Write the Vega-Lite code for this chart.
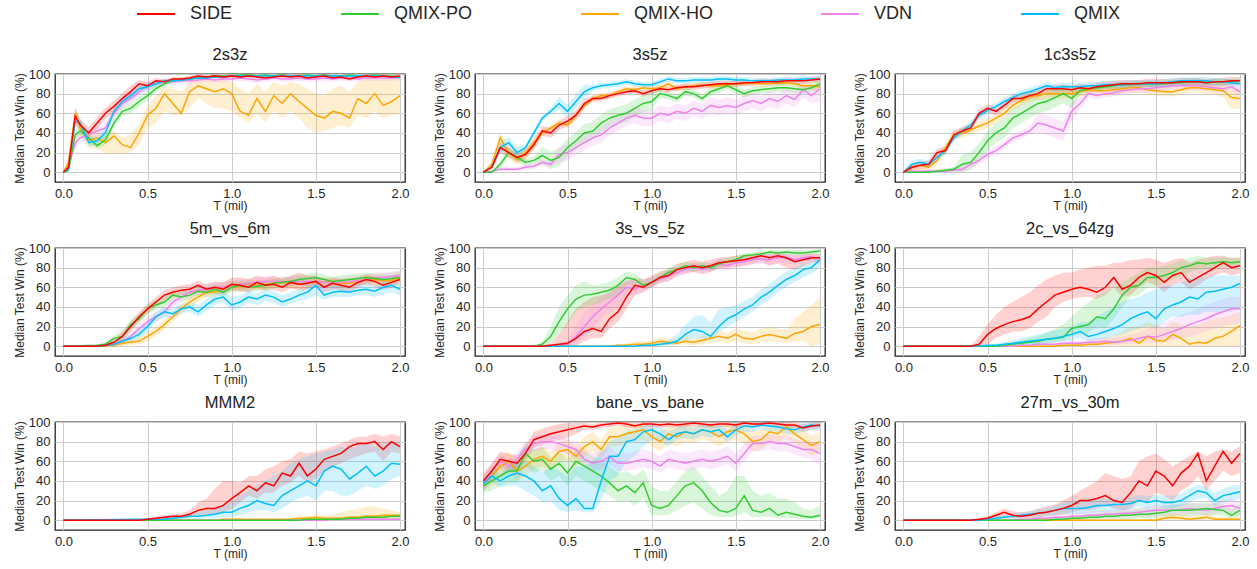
{
"$schema":"https://vega.github.io/schema/vega-lite/v6.json",
"padding":{"left":12,"top":-6,"right":5,"bottom":5},
"background":"white",
"data":{"values":[
{"m":"2s3z","t":0,"S":0,"Sl":0,"Sh":0,"P":0,"Pl":0,"Ph":0,"H":0,"Hl":0,"Hh":0,"V":0,"Vl":0,"Vh":0,"Q":0,"Ql":0,"Qh":0},
{"m":"2s3z","t":0.03,"S":5,"Sl":3,"Sh":8,"P":2,"Pl":0,"Ph":4,"H":10,"Hl":5,"Hh":15,"V":5,"Vl":2,"Vh":8,"Q":3,"Ql":1,"Qh":5},
{"m":"2s3z","t":0.07,"S":57,"Sl":50,"Sh":66,"P":38,"Pl":33,"Ph":43,"H":60,"Hl":50,"Hh":66,"V":30,"Vl":25,"Vh":36,"Q":52,"Ql":47,"Qh":57},
{"m":"2s3z","t":0.1,"S":48,"Sl":42,"Sh":54,"P":42,"Pl":37,"Ph":47,"H":45,"Hl":37,"Hh":53,"V":35,"Vl":30,"Vh":40,"Q":50,"Ql":45,"Qh":55},
{"m":"2s3z","t":0.15,"S":40,"Sl":35,"Sh":46,"P":35,"Pl":30,"Ph":40,"H":32,"Hl":24,"Hh":40,"V":38,"Vl":33,"Vh":43,"Q":30,"Ql":26,"Qh":35},
{"m":"2s3z","t":0.2,"S":50,"Sl":44,"Sh":56,"P":27,"Pl":23,"Ph":32,"H":35,"Hl":25,"Hh":42,"V":42,"Vl":37,"Vh":47,"Q":32,"Ql":28,"Qh":37},
{"m":"2s3z","t":0.25,"S":60,"Sl":54,"Sh":66,"P":33,"Pl":28,"Ph":38,"H":30,"Hl":18,"Hh":38,"V":45,"Vl":40,"Vh":50,"Q":40,"Ql":35,"Qh":45},
{"m":"2s3z","t":0.3,"S":67,"Sl":61,"Sh":73,"P":50,"Pl":45,"Ph":55,"H":37,"Hl":20,"Hh":42,"V":60,"Vl":55,"Vh":65,"Q":62,"Ql":57,"Qh":67},
{"m":"2s3z","t":0.35,"S":75,"Sl":69,"Sh":81,"P":62,"Pl":57,"Ph":67,"H":28,"Hl":18,"Hh":35,"V":70,"Vl":65,"Vh":75,"Q":72,"Ql":67,"Qh":77},
{"m":"2s3z","t":0.4,"S":82,"Sl":76,"Sh":88,"P":65,"Pl":60,"Ph":70,"H":25,"Hl":20,"Hh":38,"V":75,"Vl":70,"Vh":80,"Q":78,"Ql":73,"Qh":83},
{"m":"2s3z","t":0.45,"S":90,"Sl":85,"Sh":94,"P":72,"Pl":67,"Ph":77,"H":40,"Hl":28,"Hh":50,"V":82,"Vl":77,"Vh":87,"Q":85,"Ql":80,"Qh":89},
{"m":"2s3z","t":0.5,"S":88,"Sl":84,"Sh":92,"P":78,"Pl":73,"Ph":83,"H":58,"Hl":45,"Hh":68,"V":88,"Vl":84,"Vh":92,"Q":87,"Ql":83,"Qh":91},
{"m":"2s3z","t":0.55,"S":93,"Sl":90,"Sh":96,"P":85,"Pl":81,"Ph":89,"H":65,"Hl":50,"Hh":78,"V":90,"Vl":86,"Vh":93,"Q":90,"Ql":87,"Qh":93},
{"m":"2s3z","t":0.6,"S":92,"Sl":89,"Sh":95,"P":90,"Pl":87,"Ph":93,"H":80,"Hl":62,"Hh":88,"V":92,"Vl":89,"Vh":95,"Q":93,"Ql":91,"Qh":95},
{"m":"2s3z","t":0.65,"S":95,"Sl":93,"Sh":97,"P":93,"Pl":91,"Ph":95,"H":70,"Hl":58,"Hh":85,"V":92,"Vl":89,"Vh":95,"Q":93,"Ql":91,"Qh":95},
{"m":"2s3z","t":0.7,"S":95,"Sl":93,"Sh":97,"P":94,"Pl":92,"Ph":96,"H":60,"Hl":58,"Hh":82,"V":93,"Vl":90,"Vh":96,"Q":94,"Ql":92,"Qh":96},
{"m":"2s3z","t":0.75,"S":96,"Sl":94,"Sh":98,"P":95,"Pl":94,"Ph":97,"H":82,"Hl":65,"Hh":92,"V":93,"Vl":90,"Vh":96,"Q":95,"Ql":94,"Qh":97},
{"m":"2s3z","t":0.8,"S":98,"Sl":96,"Sh":100,"P":96,"Pl":95,"Ph":98,"H":88,"Hl":75,"Hh":95,"V":94,"Vl":91,"Vh":97,"Q":96,"Ql":95,"Qh":98},
{"m":"2s3z","t":0.85,"S":97,"Sl":95,"Sh":99,"P":97,"Pl":96,"Ph":98,"H":85,"Hl":70,"Hh":95,"V":95,"Vl":92,"Vh":98,"Q":96,"Ql":95,"Qh":98},
{"m":"2s3z","t":0.9,"S":98,"Sl":96,"Sh":100,"P":98,"Pl":97,"Ph":99,"H":82,"Hl":65,"Hh":95,"V":94,"Vl":91,"Vh":97,"Q":97,"Ql":96,"Qh":98},
{"m":"2s3z","t":0.95,"S":97,"Sl":95,"Sh":99,"P":98,"Pl":97,"Ph":99,"H":85,"Hl":65,"Hh":95,"V":95,"Vl":92,"Vh":98,"Q":97,"Ql":96,"Qh":98},
{"m":"2s3z","t":1.0,"S":98,"Sl":96,"Sh":100,"P":98,"Pl":97,"Ph":99,"H":80,"Hl":62,"Hh":92,"V":95,"Vl":92,"Vh":98,"Q":98,"Ql":97,"Qh":99},
{"m":"2s3z","t":1.05,"S":97,"Sl":95,"Sh":99,"P":99,"Pl":98,"Ph":100,"H":62,"Hl":55,"Hh":85,"V":96,"Vl":93,"Vh":98,"Q":98,"Ql":97,"Qh":99},
{"m":"2s3z","t":1.1,"S":98,"Sl":96,"Sh":100,"P":99,"Pl":98,"Ph":100,"H":58,"Hl":50,"Hh":80,"V":95,"Vl":92,"Vh":98,"Q":98,"Ql":97,"Qh":99},
{"m":"2s3z","t":1.15,"S":97,"Sl":95,"Sh":99,"P":98,"Pl":97,"Ph":99,"H":75,"Hl":60,"Hh":90,"V":94,"Vl":91,"Vh":97,"Q":98,"Ql":97,"Qh":99},
{"m":"2s3z","t":1.2,"S":96,"Sl":94,"Sh":98,"P":99,"Pl":98,"Ph":100,"H":62,"Hl":50,"Hh":82,"V":95,"Vl":92,"Vh":98,"Q":98,"Ql":97,"Qh":99},
{"m":"2s3z","t":1.25,"S":97,"Sl":95,"Sh":99,"P":98,"Pl":97,"Ph":99,"H":78,"Hl":62,"Hh":92,"V":96,"Vl":93,"Vh":98,"Q":98,"Ql":97,"Qh":99},
{"m":"2s3z","t":1.3,"S":98,"Sl":96,"Sh":100,"P":99,"Pl":98,"Ph":100,"H":70,"Hl":55,"Hh":88,"V":95,"Vl":92,"Vh":98,"Q":98,"Ql":97,"Qh":99},
{"m":"2s3z","t":1.35,"S":97,"Sl":95,"Sh":99,"P":98,"Pl":97,"Ph":99,"H":80,"Hl":62,"Hh":92,"V":95,"Vl":92,"Vh":98,"Q":98,"Ql":97,"Qh":99},
{"m":"2s3z","t":1.4,"S":98,"Sl":96,"Sh":100,"P":98,"Pl":97,"Ph":99,"H":72,"Hl":55,"Hh":90,"V":96,"Vl":93,"Vh":98,"Q":98,"Ql":97,"Qh":99},
{"m":"2s3z","t":1.45,"S":96,"Sl":94,"Sh":98,"P":99,"Pl":98,"Ph":100,"H":65,"Hl":45,"Hh":85,"V":95,"Vl":92,"Vh":98,"Q":98,"Ql":97,"Qh":99},
{"m":"2s3z","t":1.5,"S":97,"Sl":95,"Sh":99,"P":98,"Pl":97,"Ph":99,"H":58,"Hl":40,"Hh":80,"V":95,"Vl":92,"Vh":98,"Q":98,"Ql":97,"Qh":99},
{"m":"2s3z","t":1.55,"S":98,"Sl":96,"Sh":100,"P":99,"Pl":98,"Ph":100,"H":55,"Hl":42,"Hh":78,"V":96,"Vl":93,"Vh":98,"Q":98,"Ql":97,"Qh":99},
{"m":"2s3z","t":1.6,"S":96,"Sl":94,"Sh":98,"P":98,"Pl":97,"Ph":99,"H":62,"Hl":45,"Hh":85,"V":95,"Vl":92,"Vh":98,"Q":98,"Ql":97,"Qh":99},
{"m":"2s3z","t":1.65,"S":97,"Sl":95,"Sh":99,"P":98,"Pl":97,"Ph":99,"H":60,"Hl":48,"Hh":88,"V":96,"Vl":93,"Vh":98,"Q":98,"Ql":97,"Qh":99},
{"m":"2s3z","t":1.7,"S":95,"Sl":93,"Sh":97,"P":99,"Pl":98,"Ph":100,"H":55,"Hl":45,"Hh":82,"V":96,"Vl":93,"Vh":98,"Q":98,"Ql":97,"Qh":99},
{"m":"2s3z","t":1.75,"S":97,"Sl":95,"Sh":99,"P":98,"Pl":97,"Ph":99,"H":75,"Hl":58,"Hh":92,"V":95,"Vl":92,"Vh":98,"Q":98,"Ql":97,"Qh":99},
{"m":"2s3z","t":1.8,"S":98,"Sl":96,"Sh":100,"P":98,"Pl":97,"Ph":99,"H":70,"Hl":55,"Hh":95,"V":96,"Vl":93,"Vh":98,"Q":98,"Ql":97,"Qh":99},
{"m":"2s3z","t":1.85,"S":97,"Sl":95,"Sh":99,"P":99,"Pl":98,"Ph":100,"H":80,"Hl":62,"Hh":95,"V":96,"Vl":93,"Vh":98,"Q":98,"Ql":97,"Qh":99},
{"m":"2s3z","t":1.9,"S":98,"Sl":96,"Sh":100,"P":98,"Pl":97,"Ph":99,"H":68,"Hl":55,"Hh":95,"V":96,"Vl":93,"Vh":98,"Q":98,"Ql":97,"Qh":99},
{"m":"2s3z","t":1.95,"S":97,"Sl":95,"Sh":99,"P":98,"Pl":97,"Ph":99,"H":72,"Hl":58,"Hh":95,"V":96,"Vl":93,"Vh":98,"Q":97,"Ql":96,"Qh":98},
{"m":"2s3z","t":2.0,"S":98,"Sl":96,"Sh":100,"P":97,"Pl":96,"Ph":98,"H":78,"Hl":60,"Hh":95,"V":96,"Vl":93,"Vh":98,"Q":97,"Ql":96,"Qh":98},
{"m":"3s5z","t":0,"S":0,"Sl":0,"Sh":0,"P":0,"Pl":0,"Ph":0,"H":0,"Hl":0,"Hh":0,"V":0,"Vl":0,"Vh":0,"Q":0,"Ql":0,"Qh":0},
{"m":"3s5z","t":0.05,"S":5,"Sl":3,"Sh":7,"P":0,"Pl":0,"Ph":1,"H":8,"Hl":5,"Hh":11,"V":1,"Vl":0,"Vh":2,"Q":5,"Ql":3,"Qh":7},
{"m":"3s5z","t":0.1,"S":25,"Sl":20,"Sh":30,"P":8,"Pl":4,"Ph":12,"H":35,"Hl":29,"Hh":41,"V":3,"Vl":1,"Vh":5,"Q":25,"Ql":19,"Qh":31},
{"m":"3s5z","t":0.15,"S":20,"Sl":15,"Sh":25,"P":20,"Pl":16,"Ph":24,"H":20,"Hl":14,"Hh":26,"V":3,"Vl":1,"Vh":5,"Q":30,"Ql":24,"Qh":36},
{"m":"3s5z","t":0.2,"S":15,"Sl":10,"Sh":20,"P":15,"Pl":11,"Ph":19,"H":13,"Hl":7,"Hh":19,"V":3,"Vl":1,"Vh":5,"Q":20,"Ql":14,"Qh":26},
{"m":"3s5z","t":0.25,"S":18,"Sl":13,"Sh":23,"P":10,"Pl":6,"Ph":14,"H":20,"Hl":14,"Hh":26,"V":5,"Vl":2,"Vh":8,"Q":25,"Ql":22,"Qh":28},
{"m":"3s5z","t":0.3,"S":28,"Sl":23,"Sh":33,"P":12,"Pl":8,"Ph":16,"H":30,"Hl":24,"Hh":36,"V":6,"Vl":3,"Vh":9,"Q":40,"Ql":37,"Qh":43},
{"m":"3s5z","t":0.35,"S":42,"Sl":37,"Sh":47,"P":17,"Pl":8,"Ph":26,"H":40,"Hl":37,"Hh":43,"V":10,"Vl":7,"Vh":13,"Q":55,"Ql":52,"Qh":58},
{"m":"3s5z","t":0.4,"S":40,"Sl":35,"Sh":45,"P":12,"Pl":3,"Ph":21,"H":45,"Hl":42,"Hh":48,"V":8,"Vl":5,"Vh":11,"Q":62,"Ql":59,"Qh":65},
{"m":"3s5z","t":0.45,"S":48,"Sl":43,"Sh":53,"P":15,"Pl":6,"Ph":24,"H":50,"Hl":47,"Hh":53,"V":18,"Vl":10,"Vh":26,"Q":70,"Ql":63,"Qh":77},
{"m":"3s5z","t":0.5,"S":52,"Sl":47,"Sh":57,"P":25,"Pl":16,"Ph":34,"H":48,"Hl":45,"Hh":51,"V":20,"Vl":12,"Vh":28,"Q":62,"Ql":55,"Qh":69},
{"m":"3s5z","t":0.55,"S":58,"Sl":53,"Sh":63,"P":32,"Pl":23,"Ph":41,"H":58,"Hl":55,"Hh":61,"V":25,"Vl":17,"Vh":33,"Q":72,"Ql":65,"Qh":79},
{"m":"3s5z","t":0.6,"S":70,"Sl":65,"Sh":75,"P":40,"Pl":31,"Ph":49,"H":68,"Hl":65,"Hh":71,"V":30,"Vl":22,"Vh":38,"Q":82,"Ql":75,"Qh":89},
{"m":"3s5z","t":0.65,"S":75,"Sl":72,"Sh":78,"P":42,"Pl":33,"Ph":51,"H":75,"Hl":72,"Hh":78,"V":35,"Vl":27,"Vh":43,"Q":86,"Ql":83,"Qh":89},
{"m":"3s5z","t":0.7,"S":75,"Sl":72,"Sh":78,"P":50,"Pl":41,"Ph":59,"H":78,"Hl":75,"Hh":81,"V":38,"Vl":30,"Vh":46,"Q":88,"Ql":85,"Qh":91},
{"m":"3s5z","t":0.75,"S":78,"Sl":75,"Sh":81,"P":55,"Pl":46,"Ph":64,"H":78,"Hl":75,"Hh":81,"V":45,"Vl":37,"Vh":53,"Q":89,"Ql":86,"Qh":92},
{"m":"3s5z","t":0.8,"S":80,"Sl":77,"Sh":83,"P":58,"Pl":49,"Ph":67,"H":82,"Hl":79,"Hh":85,"V":50,"Vl":42,"Vh":58,"Q":90,"Ql":87,"Qh":93},
{"m":"3s5z","t":0.85,"S":82,"Sl":79,"Sh":85,"P":60,"Pl":51,"Ph":69,"H":85,"Hl":82,"Hh":88,"V":55,"Vl":47,"Vh":63,"Q":92,"Ql":89,"Qh":95},
{"m":"3s5z","t":0.9,"S":83,"Sl":80,"Sh":86,"P":65,"Pl":56,"Ph":74,"H":84,"Hl":81,"Hh":87,"V":58,"Vl":50,"Vh":66,"Q":90,"Ql":87,"Qh":93},
{"m":"3s5z","t":0.95,"S":80,"Sl":77,"Sh":83,"P":70,"Pl":61,"Ph":79,"H":86,"Hl":83,"Hh":89,"V":55,"Vl":47,"Vh":63,"Q":89,"Ql":86,"Qh":92},
{"m":"3s5z","t":1.0,"S":83,"Sl":80,"Sh":86,"P":72,"Pl":63,"Ph":81,"H":85,"Hl":82,"Hh":88,"V":55,"Vl":47,"Vh":63,"Q":89,"Ql":86,"Qh":92},
{"m":"3s5z","t":1.05,"S":85,"Sl":82,"Sh":88,"P":80,"Pl":76,"Ph":84,"H":86,"Hl":83,"Hh":89,"V":60,"Vl":52,"Vh":68,"Q":92,"Ql":89,"Qh":95},
{"m":"3s5z","t":1.1,"S":84,"Sl":81,"Sh":87,"P":78,"Pl":74,"Ph":82,"H":90,"Hl":87,"Hh":93,"V":58,"Vl":50,"Vh":66,"Q":95,"Ql":92,"Qh":98},
{"m":"3s5z","t":1.15,"S":86,"Sl":83,"Sh":89,"P":75,"Pl":71,"Ph":79,"H":85,"Hl":82,"Hh":88,"V":62,"Vl":54,"Vh":70,"Q":93,"Ql":90,"Qh":96},
{"m":"3s5z","t":1.2,"S":87,"Sl":84,"Sh":90,"P":82,"Pl":78,"Ph":86,"H":87,"Hl":84,"Hh":90,"V":60,"Vl":52,"Vh":68,"Q":93,"Ql":90,"Qh":96},
{"m":"3s5z","t":1.25,"S":87,"Sl":84,"Sh":90,"P":80,"Pl":76,"Ph":84,"H":88,"Hl":85,"Hh":91,"V":65,"Vl":57,"Vh":73,"Q":94,"Ql":91,"Qh":97},
{"m":"3s5z","t":1.3,"S":88,"Sl":85,"Sh":91,"P":75,"Pl":71,"Ph":79,"H":89,"Hl":86,"Hh":92,"V":62,"Vl":54,"Vh":70,"Q":94,"Ql":91,"Qh":97},
{"m":"3s5z","t":1.35,"S":89,"Sl":86,"Sh":92,"P":82,"Pl":78,"Ph":86,"H":88,"Hl":85,"Hh":91,"V":68,"Vl":60,"Vh":76,"Q":94,"Ql":91,"Qh":97},
{"m":"3s5z","t":1.4,"S":90,"Sl":87,"Sh":93,"P":85,"Pl":81,"Ph":89,"H":88,"Hl":85,"Hh":91,"V":66,"Vl":58,"Vh":74,"Q":95,"Ql":92,"Qh":98},
{"m":"3s5z","t":1.45,"S":90,"Sl":87,"Sh":93,"P":88,"Pl":84,"Ph":92,"H":89,"Hl":86,"Hh":92,"V":68,"Vl":60,"Vh":76,"Q":95,"Ql":92,"Qh":98},
{"m":"3s5z","t":1.5,"S":90,"Sl":87,"Sh":93,"P":84,"Pl":80,"Ph":88,"H":90,"Hl":87,"Hh":93,"V":66,"Vl":58,"Vh":74,"Q":94,"Ql":91,"Qh":97},
{"m":"3s5z","t":1.55,"S":91,"Sl":88,"Sh":94,"P":80,"Pl":76,"Ph":84,"H":90,"Hl":87,"Hh":93,"V":70,"Vl":62,"Vh":78,"Q":94,"Ql":91,"Qh":97},
{"m":"3s5z","t":1.6,"S":91,"Sl":88,"Sh":94,"P":83,"Pl":79,"Ph":87,"H":91,"Hl":88,"Hh":94,"V":73,"Vl":65,"Vh":81,"Q":93,"Ql":90,"Qh":96},
{"m":"3s5z","t":1.65,"S":92,"Sl":89,"Sh":95,"P":84,"Pl":80,"Ph":88,"H":90,"Hl":87,"Hh":93,"V":70,"Vl":62,"Vh":78,"Q":93,"Ql":90,"Qh":96},
{"m":"3s5z","t":1.7,"S":92,"Sl":89,"Sh":95,"P":85,"Pl":81,"Ph":89,"H":90,"Hl":87,"Hh":93,"V":75,"Vl":67,"Vh":83,"Q":93,"Ql":90,"Qh":96},
{"m":"3s5z","t":1.75,"S":92,"Sl":89,"Sh":95,"P":86,"Pl":82,"Ph":90,"H":91,"Hl":88,"Hh":94,"V":72,"Vl":64,"Vh":80,"Q":94,"Ql":91,"Qh":97},
{"m":"3s5z","t":1.8,"S":93,"Sl":90,"Sh":96,"P":86,"Pl":82,"Ph":90,"H":91,"Hl":88,"Hh":94,"V":78,"Vl":70,"Vh":86,"Q":94,"Ql":91,"Qh":97},
{"m":"3s5z","t":1.85,"S":93,"Sl":90,"Sh":96,"P":85,"Pl":81,"Ph":89,"H":90,"Hl":87,"Hh":93,"V":74,"Vl":66,"Vh":82,"Q":94,"Ql":91,"Qh":97},
{"m":"3s5z","t":1.9,"S":93,"Sl":90,"Sh":96,"P":84,"Pl":80,"Ph":88,"H":88,"Hl":85,"Hh":91,"V":84,"Vl":76,"Vh":92,"Q":95,"Ql":92,"Qh":98},
{"m":"3s5z","t":1.95,"S":94,"Sl":91,"Sh":97,"P":86,"Pl":82,"Ph":90,"H":88,"Hl":84,"Hh":92,"V":78,"Vl":70,"Vh":86,"Q":95,"Ql":92,"Qh":98},
{"m":"3s5z","t":2.0,"S":95,"Sl":92,"Sh":98,"P":90,"Pl":86,"Ph":94,"H":87,"Hl":80,"Hh":92,"V":85,"Vl":72,"Vh":90,"Q":95,"Ql":92,"Qh":98},
{"m":"1c3s5z","t":0,"S":0,"Sl":0,"Sh":0,"P":0,"Pl":0,"Ph":0,"H":0,"Hl":0,"Hh":0,"V":0,"Vl":0,"Vh":0,"Q":0,"Ql":0,"Qh":0},
{"m":"1c3s5z","t":0.05,"S":5,"Sl":2,"Sh":9,"P":0,"Pl":0,"Ph":1,"H":5,"Hl":2,"Hh":9,"V":1,"Vl":0,"Vh":3,"Q":8,"Ql":4,"Qh":12},
{"m":"1c3s5z","t":0.1,"S":7,"Sl":3,"Sh":11,"P":0,"Pl":0,"Ph":1,"H":7,"Hl":3,"Hh":11,"V":1,"Vl":0,"Vh":3,"Q":10,"Ql":6,"Qh":14},
{"m":"1c3s5z","t":0.15,"S":8,"Sl":4,"Sh":12,"P":0,"Pl":0,"Ph":1,"H":5,"Hl":1,"Hh":9,"V":1,"Vl":0,"Vh":3,"Q":8,"Ql":4,"Qh":12},
{"m":"1c3s5z","t":0.2,"S":20,"Sl":16,"Sh":24,"P":1,"Pl":0,"Ph":3,"H":12,"Hl":7,"Hh":17,"V":1,"Vl":0,"Vh":3,"Q":15,"Ql":11,"Qh":19},
{"m":"1c3s5z","t":0.25,"S":22,"Sl":18,"Sh":26,"P":2,"Pl":0,"Ph":4,"H":25,"Hl":20,"Hh":30,"V":1,"Vl":0,"Vh":3,"Q":22,"Ql":18,"Qh":26},
{"m":"1c3s5z","t":0.3,"S":38,"Sl":34,"Sh":42,"P":3,"Pl":1,"Ph":5,"H":38,"Hl":33,"Hh":43,"V":2,"Vl":0,"Vh":5,"Q":35,"Ql":31,"Qh":39},
{"m":"1c3s5z","t":0.35,"S":42,"Sl":38,"Sh":46,"P":8,"Pl":0,"Ph":18,"H":40,"Hl":35,"Hh":45,"V":3,"Vl":0,"Vh":7,"Q":42,"Ql":38,"Qh":46},
{"m":"1c3s5z","t":0.4,"S":45,"Sl":41,"Sh":49,"P":10,"Pl":2,"Ph":20,"H":43,"Hl":38,"Hh":48,"V":8,"Vl":4,"Vh":12,"Q":48,"Ql":44,"Qh":52},
{"m":"1c3s5z","t":0.45,"S":60,"Sl":56,"Sh":64,"P":20,"Pl":10,"Ph":30,"H":47,"Hl":42,"Hh":52,"V":12,"Vl":8,"Vh":16,"Q":58,"Ql":54,"Qh":62},
{"m":"1c3s5z","t":0.5,"S":65,"Sl":61,"Sh":69,"P":32,"Pl":22,"Ph":42,"H":50,"Hl":45,"Hh":55,"V":18,"Vl":14,"Vh":22,"Q":63,"Ql":59,"Qh":67},
{"m":"1c3s5z","t":0.55,"S":62,"Sl":58,"Sh":66,"P":40,"Pl":30,"Ph":50,"H":55,"Hl":50,"Hh":60,"V":22,"Vl":18,"Vh":26,"Q":67,"Ql":63,"Qh":71},
{"m":"1c3s5z","t":0.6,"S":68,"Sl":64,"Sh":72,"P":45,"Pl":35,"Ph":55,"H":60,"Hl":55,"Hh":65,"V":28,"Vl":24,"Vh":32,"Q":72,"Ql":68,"Qh":76},
{"m":"1c3s5z","t":0.65,"S":75,"Sl":71,"Sh":79,"P":55,"Pl":45,"Ph":65,"H":68,"Hl":63,"Hh":73,"V":35,"Vl":31,"Vh":39,"Q":76,"Ql":72,"Qh":80},
{"m":"1c3s5z","t":0.7,"S":75,"Sl":71,"Sh":79,"P":60,"Pl":50,"Ph":70,"H":73,"Hl":68,"Hh":78,"V":38,"Vl":34,"Vh":42,"Q":80,"Ql":76,"Qh":84},
{"m":"1c3s5z","t":0.75,"S":78,"Sl":74,"Sh":82,"P":65,"Pl":55,"Ph":75,"H":77,"Hl":72,"Hh":82,"V":42,"Vl":38,"Vh":46,"Q":82,"Ql":78,"Qh":86},
{"m":"1c3s5z","t":0.8,"S":80,"Sl":76,"Sh":84,"P":70,"Pl":60,"Ph":80,"H":78,"Hl":73,"Hh":83,"V":50,"Vl":40,"Vh":60,"Q":85,"Ql":81,"Qh":89},
{"m":"1c3s5z","t":0.85,"S":85,"Sl":81,"Sh":89,"P":72,"Pl":62,"Ph":82,"H":80,"Hl":75,"Hh":85,"V":48,"Vl":38,"Vh":58,"Q":88,"Ql":84,"Qh":92},
{"m":"1c3s5z","t":0.9,"S":85,"Sl":81,"Sh":89,"P":76,"Pl":66,"Ph":86,"H":80,"Hl":75,"Hh":85,"V":45,"Vl":35,"Vh":55,"Q":86,"Ql":82,"Qh":90},
{"m":"1c3s5z","t":0.95,"S":85,"Sl":81,"Sh":89,"P":80,"Pl":70,"Ph":90,"H":80,"Hl":75,"Hh":85,"V":42,"Vl":32,"Vh":52,"Q":87,"Ql":83,"Qh":91},
{"m":"1c3s5z","t":1.0,"S":84,"Sl":80,"Sh":88,"P":75,"Pl":65,"Ph":85,"H":80,"Hl":75,"Hh":85,"V":62,"Vl":52,"Vh":72,"Q":87,"Ql":83,"Qh":91},
{"m":"1c3s5z","t":1.05,"S":86,"Sl":82,"Sh":90,"P":83,"Pl":78,"Ph":88,"H":82,"Hl":77,"Hh":87,"V":70,"Vl":64,"Vh":76,"Q":87,"Ql":83,"Qh":91},
{"m":"1c3s5z","t":1.1,"S":85,"Sl":81,"Sh":89,"P":85,"Pl":82,"Ph":88,"H":84,"Hl":79,"Hh":89,"V":80,"Vl":76,"Vh":84,"Q":88,"Ql":84,"Qh":92},
{"m":"1c3s5z","t":1.15,"S":87,"Sl":83,"Sh":91,"P":86,"Pl":83,"Ph":89,"H":83,"Hl":78,"Hh":88,"V":78,"Vl":74,"Vh":82,"Q":88,"Ql":84,"Qh":92},
{"m":"1c3s5z","t":1.2,"S":88,"Sl":84,"Sh":92,"P":87,"Pl":84,"Ph":90,"H":83,"Hl":78,"Hh":88,"V":80,"Vl":76,"Vh":84,"Q":89,"Ql":85,"Qh":93},
{"m":"1c3s5z","t":1.25,"S":89,"Sl":85,"Sh":93,"P":88,"Pl":85,"Ph":91,"H":84,"Hl":79,"Hh":89,"V":81,"Vl":77,"Vh":85,"Q":89,"Ql":85,"Qh":93},
{"m":"1c3s5z","t":1.3,"S":90,"Sl":86,"Sh":94,"P":89,"Pl":86,"Ph":92,"H":85,"Hl":80,"Hh":90,"V":83,"Vl":79,"Vh":87,"Q":89,"Ql":85,"Qh":93},
{"m":"1c3s5z","t":1.35,"S":90,"Sl":86,"Sh":94,"P":89,"Pl":86,"Ph":92,"H":86,"Hl":81,"Hh":91,"V":84,"Vl":80,"Vh":88,"Q":90,"Ql":86,"Qh":94},
{"m":"1c3s5z","t":1.4,"S":90,"Sl":86,"Sh":94,"P":90,"Pl":87,"Ph":93,"H":86,"Hl":81,"Hh":91,"V":85,"Vl":81,"Vh":89,"Q":90,"Ql":86,"Qh":94},
{"m":"1c3s5z","t":1.45,"S":91,"Sl":87,"Sh":95,"P":90,"Pl":87,"Ph":93,"H":84,"Hl":79,"Hh":89,"V":85,"Vl":81,"Vh":89,"Q":90,"Ql":86,"Qh":94},
{"m":"1c3s5z","t":1.5,"S":91,"Sl":87,"Sh":95,"P":90,"Pl":87,"Ph":93,"H":83,"Hl":78,"Hh":88,"V":86,"Vl":82,"Vh":90,"Q":90,"Ql":86,"Qh":94},
{"m":"1c3s5z","t":1.55,"S":91,"Sl":87,"Sh":95,"P":90,"Pl":87,"Ph":93,"H":82,"Hl":77,"Hh":87,"V":87,"Vl":83,"Vh":91,"Q":91,"Ql":87,"Qh":95},
{"m":"1c3s5z","t":1.6,"S":91,"Sl":87,"Sh":95,"P":91,"Pl":88,"Ph":94,"H":82,"Hl":77,"Hh":87,"V":88,"Vl":84,"Vh":92,"Q":92,"Ql":88,"Qh":96},
{"m":"1c3s5z","t":1.65,"S":92,"Sl":88,"Sh":96,"P":91,"Pl":88,"Ph":94,"H":84,"Hl":79,"Hh":89,"V":88,"Vl":84,"Vh":92,"Q":93,"Ql":89,"Qh":97},
{"m":"1c3s5z","t":1.7,"S":92,"Sl":88,"Sh":96,"P":92,"Pl":89,"Ph":95,"H":86,"Hl":81,"Hh":91,"V":88,"Vl":84,"Vh":92,"Q":93,"Ql":89,"Qh":97},
{"m":"1c3s5z","t":1.75,"S":92,"Sl":88,"Sh":96,"P":92,"Pl":89,"Ph":95,"H":86,"Hl":81,"Hh":91,"V":88,"Vl":84,"Vh":92,"Q":93,"Ql":89,"Qh":97},
{"m":"1c3s5z","t":1.8,"S":91,"Sl":87,"Sh":95,"P":91,"Pl":88,"Ph":94,"H":85,"Hl":80,"Hh":90,"V":87,"Vl":83,"Vh":91,"Q":93,"Ql":89,"Qh":97},
{"m":"1c3s5z","t":1.85,"S":92,"Sl":88,"Sh":96,"P":92,"Pl":89,"Ph":95,"H":84,"Hl":79,"Hh":89,"V":86,"Vl":82,"Vh":90,"Q":92,"Ql":88,"Qh":96},
{"m":"1c3s5z","t":1.9,"S":92,"Sl":88,"Sh":96,"P":92,"Pl":89,"Ph":95,"H":83,"Hl":76,"Hh":90,"V":85,"Vl":81,"Vh":89,"Q":92,"Ql":88,"Qh":96},
{"m":"1c3s5z","t":1.95,"S":93,"Sl":89,"Sh":97,"P":92,"Pl":89,"Ph":95,"H":76,"Hl":64,"Hh":86,"V":87,"Vl":83,"Vh":91,"Q":91,"Ql":87,"Qh":95},
{"m":"1c3s5z","t":2.0,"S":93,"Sl":89,"Sh":97,"P":93,"Pl":90,"Ph":96,"H":75,"Hl":65,"Hh":85,"V":82,"Vl":78,"Vh":86,"Q":90,"Ql":86,"Qh":94},
{"m":"5m_vs_6m","t":0,"S":0,"Sl":0,"Sh":0,"P":0,"Pl":0,"Ph":0,"H":0,"Hl":0,"Hh":0,"V":0,"Vl":0,"Vh":0,"Q":0,"Ql":0,"Qh":0},
{"m":"5m_vs_6m","t":0.2,"S":0,"Sl":0,"Sh":1,"P":1,"Pl":0,"Ph":2,"H":0,"Hl":0,"Hh":1,"V":0,"Vl":0,"Vh":1,"Q":0,"Ql":0,"Qh":1},
{"m":"5m_vs_6m","t":0.25,"S":1,"Sl":0,"Sh":3,"P":2,"Pl":0,"Ph":4,"H":0,"Hl":0,"Hh":1,"V":1,"Vl":0,"Vh":2,"Q":1,"Ql":0,"Qh":2},
{"m":"5m_vs_6m","t":0.3,"S":4,"Sl":1,"Sh":7,"P":8,"Pl":5,"Ph":11,"H":1,"Hl":0,"Hh":3,"V":2,"Vl":0,"Vh":4,"Q":2,"Ql":0,"Qh":4},
{"m":"5m_vs_6m","t":0.35,"S":10,"Sl":5,"Sh":15,"P":10,"Pl":5,"Ph":15,"H":3,"Hl":0,"Hh":6,"V":5,"Vl":2,"Vh":8,"Q":5,"Ql":2,"Qh":8},
{"m":"5m_vs_6m","t":0.4,"S":20,"Sl":15,"Sh":25,"P":22,"Pl":17,"Ph":27,"H":4,"Hl":1,"Hh":7,"V":10,"Vl":6,"Vh":14,"Q":8,"Ql":4,"Qh":12},
{"m":"5m_vs_6m","t":0.45,"S":30,"Sl":25,"Sh":35,"P":28,"Pl":23,"Ph":33,"H":5,"Hl":2,"Hh":8,"V":18,"Vl":13,"Vh":23,"Q":12,"Ql":7,"Qh":17},
{"m":"5m_vs_6m","t":0.5,"S":38,"Sl":33,"Sh":43,"P":38,"Pl":33,"Ph":43,"H":10,"Hl":5,"Hh":15,"V":25,"Vl":20,"Vh":30,"Q":20,"Ql":15,"Qh":25},
{"m":"5m_vs_6m","t":0.55,"S":45,"Sl":40,"Sh":50,"P":42,"Pl":37,"Ph":47,"H":15,"Hl":10,"Hh":20,"V":30,"Vl":25,"Vh":35,"Q":30,"Ql":25,"Qh":35},
{"m":"5m_vs_6m","t":0.6,"S":52,"Sl":47,"Sh":57,"P":45,"Pl":40,"Ph":50,"H":22,"Hl":17,"Hh":27,"V":35,"Vl":30,"Vh":40,"Q":35,"Ql":30,"Qh":40},
{"m":"5m_vs_6m","t":0.65,"S":55,"Sl":50,"Sh":60,"P":52,"Pl":47,"Ph":57,"H":30,"Hl":25,"Hh":35,"V":45,"Vl":40,"Vh":50,"Q":33,"Ql":28,"Qh":38},
{"m":"5m_vs_6m","t":0.7,"S":57,"Sl":52,"Sh":62,"P":50,"Pl":45,"Ph":55,"H":38,"Hl":33,"Hh":43,"V":50,"Vl":45,"Vh":55,"Q":38,"Ql":33,"Qh":43},
{"m":"5m_vs_6m","t":0.75,"S":58,"Sl":53,"Sh":63,"P":52,"Pl":47,"Ph":57,"H":45,"Hl":40,"Hh":50,"V":55,"Vl":50,"Vh":60,"Q":40,"Ql":35,"Qh":45},
{"m":"5m_vs_6m","t":0.8,"S":62,"Sl":57,"Sh":67,"P":56,"Pl":51,"Ph":61,"H":50,"Hl":45,"Hh":55,"V":57,"Vl":52,"Vh":62,"Q":35,"Ql":30,"Qh":42},
{"m":"5m_vs_6m","t":0.85,"S":58,"Sl":53,"Sh":63,"P":55,"Pl":50,"Ph":60,"H":55,"Hl":50,"Hh":60,"V":58,"Vl":53,"Vh":63,"Q":42,"Ql":36,"Qh":48},
{"m":"5m_vs_6m","t":0.9,"S":60,"Sl":55,"Sh":66,"P":58,"Pl":53,"Ph":63,"H":55,"Hl":50,"Hh":60,"V":60,"Vl":55,"Vh":65,"Q":48,"Ql":42,"Qh":54},
{"m":"5m_vs_6m","t":0.95,"S":58,"Sl":53,"Sh":65,"P":55,"Pl":50,"Ph":60,"H":60,"Hl":55,"Hh":65,"V":60,"Vl":55,"Vh":65,"Q":50,"Ql":44,"Qh":56},
{"m":"5m_vs_6m","t":1.0,"S":63,"Sl":57,"Sh":70,"P":60,"Pl":55,"Ph":65,"H":62,"Hl":57,"Hh":67,"V":62,"Vl":57,"Vh":67,"Q":42,"Ql":36,"Qh":50},
{"m":"5m_vs_6m","t":1.05,"S":62,"Sl":56,"Sh":70,"P":62,"Pl":57,"Ph":67,"H":60,"Hl":55,"Hh":65,"V":63,"Vl":58,"Vh":68,"Q":45,"Ql":39,"Qh":52},
{"m":"5m_vs_6m","t":1.1,"S":60,"Sl":55,"Sh":68,"P":60,"Pl":55,"Ph":65,"H":64,"Hl":59,"Hh":69,"V":64,"Vl":59,"Vh":69,"Q":50,"Ql":44,"Qh":56},
{"m":"5m_vs_6m","t":1.15,"S":65,"Sl":59,"Sh":72,"P":61,"Pl":56,"Ph":66,"H":62,"Hl":57,"Hh":67,"V":65,"Vl":60,"Vh":70,"Q":48,"Ql":42,"Qh":54},
{"m":"5m_vs_6m","t":1.2,"S":62,"Sl":57,"Sh":70,"P":62,"Pl":57,"Ph":67,"H":63,"Hl":58,"Hh":68,"V":66,"Vl":61,"Vh":71,"Q":52,"Ql":46,"Qh":58},
{"m":"5m_vs_6m","t":1.25,"S":63,"Sl":57,"Sh":72,"P":64,"Pl":59,"Ph":69,"H":64,"Hl":59,"Hh":69,"V":66,"Vl":61,"Vh":71,"Q":50,"Ql":44,"Qh":56},
{"m":"5m_vs_6m","t":1.3,"S":60,"Sl":55,"Sh":68,"P":65,"Pl":60,"Ph":70,"H":65,"Hl":60,"Hh":70,"V":66,"Vl":61,"Vh":71,"Q":45,"Ql":40,"Qh":52},
{"m":"5m_vs_6m","t":1.35,"S":65,"Sl":59,"Sh":72,"P":66,"Pl":61,"Ph":71,"H":64,"Hl":59,"Hh":69,"V":66,"Vl":61,"Vh":71,"Q":48,"Ql":43,"Qh":55},
{"m":"5m_vs_6m","t":1.4,"S":63,"Sl":57,"Sh":75,"P":68,"Pl":63,"Ph":73,"H":63,"Hl":58,"Hh":68,"V":66,"Vl":61,"Vh":71,"Q":52,"Ql":46,"Qh":58},
{"m":"5m_vs_6m","t":1.45,"S":64,"Sl":58,"Sh":72,"P":69,"Pl":64,"Ph":74,"H":64,"Hl":59,"Hh":69,"V":66,"Vl":61,"Vh":71,"Q":55,"Ql":48,"Qh":62},
{"m":"5m_vs_6m","t":1.5,"S":66,"Sl":60,"Sh":72,"P":70,"Pl":65,"Ph":75,"H":65,"Hl":60,"Hh":70,"V":66,"Vl":61,"Vh":71,"Q":62,"Ql":52,"Qh":66},
{"m":"5m_vs_6m","t":1.55,"S":60,"Sl":55,"Sh":66,"P":68,"Pl":63,"Ph":73,"H":65,"Hl":60,"Hh":70,"V":65,"Vl":60,"Vh":70,"Q":52,"Ql":47,"Qh":60},
{"m":"5m_vs_6m","t":1.6,"S":64,"Sl":58,"Sh":70,"P":66,"Pl":61,"Ph":71,"H":65,"Hl":60,"Hh":70,"V":64,"Vl":59,"Vh":69,"Q":55,"Ql":50,"Qh":62},
{"m":"5m_vs_6m","t":1.65,"S":62,"Sl":57,"Sh":68,"P":67,"Pl":62,"Ph":72,"H":64,"Hl":59,"Hh":69,"V":65,"Vl":60,"Vh":70,"Q":56,"Ql":50,"Qh":62},
{"m":"5m_vs_6m","t":1.7,"S":60,"Sl":55,"Sh":66,"P":68,"Pl":63,"Ph":73,"H":64,"Hl":59,"Hh":69,"V":66,"Vl":61,"Vh":71,"Q":55,"Ql":50,"Qh":62},
{"m":"5m_vs_6m","t":1.75,"S":65,"Sl":60,"Sh":70,"P":69,"Pl":64,"Ph":74,"H":66,"Hl":61,"Hh":71,"V":67,"Vl":62,"Vh":72,"Q":57,"Ql":52,"Qh":63},
{"m":"5m_vs_6m","t":1.8,"S":68,"Sl":63,"Sh":73,"P":70,"Pl":65,"Ph":75,"H":68,"Hl":63,"Hh":73,"V":68,"Vl":63,"Vh":73,"Q":58,"Ql":52,"Qh":64},
{"m":"5m_vs_6m","t":1.85,"S":66,"Sl":61,"Sh":71,"P":69,"Pl":64,"Ph":74,"H":68,"Hl":63,"Hh":73,"V":70,"Vl":65,"Vh":75,"Q":56,"Ql":50,"Qh":62},
{"m":"5m_vs_6m","t":1.9,"S":62,"Sl":57,"Sh":67,"P":68,"Pl":63,"Ph":74,"H":67,"Hl":62,"Hh":72,"V":70,"Vl":65,"Vh":75,"Q":60,"Ql":53,"Qh":65},
{"m":"5m_vs_6m","t":1.95,"S":65,"Sl":60,"Sh":70,"P":69,"Pl":64,"Ph":75,"H":67,"Hl":62,"Hh":72,"V":71,"Vl":66,"Vh":76,"Q":62,"Ql":55,"Qh":66},
{"m":"5m_vs_6m","t":2.0,"S":68,"Sl":63,"Sh":73,"P":70,"Pl":65,"Ph":76,"H":70,"Hl":65,"Hh":75,"V":72,"Vl":67,"Vh":77,"Q":58,"Ql":52,"Qh":64},
{"m":"3s_vs_5z","t":0,"S":0,"Sl":0,"Sh":0,"P":0,"Pl":0,"Ph":0,"H":0,"Hl":0,"Hh":0,"V":0,"Vl":0,"Vh":0,"Q":0,"Ql":0,"Qh":0},
{"m":"3s_vs_5z","t":0.3,"S":0,"Sl":0,"Sh":0,"P":0,"Pl":0,"Ph":0,"H":0,"Hl":0,"Hh":0,"V":0,"Vl":0,"Vh":0,"Q":0,"Ql":0,"Qh":0},
{"m":"3s_vs_5z","t":0.35,"S":0,"Sl":0,"Sh":1,"P":2,"Pl":0,"Ph":5,"H":0,"Hl":0,"Hh":0,"V":0,"Vl":0,"Vh":0,"Q":0,"Ql":0,"Qh":0},
{"m":"3s_vs_5z","t":0.4,"S":1,"Sl":0,"Sh":3,"P":10,"Pl":3,"Ph":20,"H":0,"Hl":0,"Hh":0,"V":0,"Vl":0,"Vh":1,"Q":0,"Ql":0,"Qh":0},
{"m":"3s_vs_5z","t":0.45,"S":2,"Sl":0,"Sh":12,"P":25,"Pl":12,"Ph":40,"H":0,"Hl":0,"Hh":0,"V":1,"Vl":0,"Vh":3,"Q":0,"Ql":0,"Qh":0},
{"m":"3s_vs_5z","t":0.5,"S":3,"Sl":0,"Sh":25,"P":38,"Pl":22,"Ph":52,"H":0,"Hl":0,"Hh":0,"V":2,"Vl":0,"Vh":6,"Q":0,"Ql":0,"Qh":0},
{"m":"3s_vs_5z","t":0.55,"S":8,"Sl":0,"Sh":38,"P":48,"Pl":35,"Ph":62,"H":0,"Hl":0,"Hh":0,"V":10,"Vl":2,"Vh":20,"Q":0,"Ql":0,"Qh":0},
{"m":"3s_vs_5z","t":0.6,"S":15,"Sl":5,"Sh":45,"P":52,"Pl":40,"Ph":66,"H":0,"Hl":0,"Hh":0,"V":20,"Vl":8,"Vh":35,"Q":0,"Ql":0,"Qh":0},
{"m":"3s_vs_5z","t":0.65,"S":18,"Sl":8,"Sh":50,"P":53,"Pl":42,"Ph":62,"H":0,"Hl":0,"Hh":0,"V":30,"Vl":18,"Vh":42,"Q":0,"Ql":0,"Qh":0},
{"m":"3s_vs_5z","t":0.7,"S":15,"Sl":8,"Sh":52,"P":55,"Pl":45,"Ph":63,"H":0,"Hl":0,"Hh":0,"V":38,"Vl":28,"Vh":50,"Q":0,"Ql":0,"Qh":0},
{"m":"3s_vs_5z","t":0.75,"S":28,"Sl":18,"Sh":55,"P":57,"Pl":48,"Ph":66,"H":0,"Hl":0,"Hh":1,"V":45,"Vl":35,"Vh":55,"Q":0,"Ql":0,"Qh":0},
{"m":"3s_vs_5z","t":0.8,"S":35,"Sl":25,"Sh":62,"P":62,"Pl":52,"Ph":70,"H":1,"Hl":0,"Hh":2,"V":52,"Vl":42,"Vh":62,"Q":0,"Ql":0,"Qh":0},
{"m":"3s_vs_5z","t":0.85,"S":50,"Sl":38,"Sh":66,"P":70,"Pl":62,"Ph":76,"H":1,"Hl":0,"Hh":3,"V":60,"Vl":52,"Vh":68,"Q":0,"Ql":0,"Qh":0},
{"m":"3s_vs_5z","t":0.9,"S":62,"Sl":52,"Sh":70,"P":68,"Pl":62,"Ph":74,"H":2,"Hl":0,"Hh":5,"V":58,"Vl":52,"Vh":66,"Q":0,"Ql":0,"Qh":1},
{"m":"3s_vs_5z","t":0.95,"S":60,"Sl":55,"Sh":68,"P":62,"Pl":58,"Ph":68,"H":2,"Hl":0,"Hh":5,"V":62,"Vl":56,"Vh":68,"Q":1,"Ql":0,"Qh":2},
{"m":"3s_vs_5z","t":1.0,"S":65,"Sl":60,"Sh":72,"P":65,"Pl":60,"Ph":70,"H":3,"Hl":0,"Hh":6,"V":65,"Vl":60,"Vh":70,"Q":1,"Ql":0,"Qh":2},
{"m":"3s_vs_5z","t":1.05,"S":70,"Sl":65,"Sh":76,"P":70,"Pl":65,"Ph":75,"H":5,"Hl":2,"Hh":9,"V":68,"Vl":63,"Vh":73,"Q":2,"Ql":0,"Qh":4},
{"m":"3s_vs_5z","t":1.1,"S":72,"Sl":66,"Sh":78,"P":75,"Pl":70,"Ph":80,"H":4,"Hl":1,"Hh":8,"V":72,"Vl":67,"Vh":77,"Q":3,"Ql":1,"Qh":6},
{"m":"3s_vs_5z","t":1.15,"S":78,"Sl":72,"Sh":84,"P":78,"Pl":73,"Ph":83,"H":3,"Hl":1,"Hh":7,"V":75,"Vl":70,"Vh":80,"Q":5,"Ql":2,"Qh":12},
{"m":"3s_vs_5z","t":1.2,"S":80,"Sl":74,"Sh":86,"P":82,"Pl":78,"Ph":86,"H":5,"Hl":2,"Hh":9,"V":78,"Vl":73,"Vh":83,"Q":12,"Ql":6,"Qh":22},
{"m":"3s_vs_5z","t":1.25,"S":82,"Sl":76,"Sh":88,"P":80,"Pl":76,"Ph":84,"H":4,"Hl":1,"Hh":8,"V":80,"Vl":75,"Vh":85,"Q":17,"Ql":8,"Qh":30},
{"m":"3s_vs_5z","t":1.3,"S":80,"Sl":74,"Sh":86,"P":82,"Pl":78,"Ph":86,"H":6,"Hl":2,"Hh":10,"V":78,"Vl":73,"Vh":83,"Q":15,"Ql":8,"Qh":32},
{"m":"3s_vs_5z","t":1.35,"S":82,"Sl":76,"Sh":88,"P":80,"Pl":76,"Ph":84,"H":8,"Hl":3,"Hh":14,"V":80,"Vl":75,"Vh":85,"Q":10,"Ql":6,"Qh":25},
{"m":"3s_vs_5z","t":1.4,"S":85,"Sl":79,"Sh":90,"P":84,"Pl":80,"Ph":88,"H":10,"Hl":4,"Hh":16,"V":84,"Vl":79,"Vh":89,"Q":20,"Ql":14,"Qh":38},
{"m":"3s_vs_5z","t":1.45,"S":86,"Sl":80,"Sh":91,"P":86,"Pl":82,"Ph":90,"H":8,"Hl":3,"Hh":14,"V":82,"Vl":77,"Vh":87,"Q":28,"Ql":20,"Qh":40},
{"m":"3s_vs_5z","t":1.5,"S":87,"Sl":81,"Sh":92,"P":88,"Pl":84,"Ph":92,"H":12,"Hl":5,"Hh":18,"V":85,"Vl":80,"Vh":90,"Q":32,"Ql":24,"Qh":42},
{"m":"3s_vs_5z","t":1.55,"S":88,"Sl":82,"Sh":93,"P":92,"Pl":88,"Ph":95,"H":8,"Hl":3,"Hh":16,"V":86,"Vl":81,"Vh":91,"Q":38,"Ql":30,"Qh":46},
{"m":"3s_vs_5z","t":1.6,"S":90,"Sl":84,"Sh":94,"P":93,"Pl":90,"Ph":96,"H":7,"Hl":2,"Hh":14,"V":88,"Vl":83,"Vh":93,"Q":42,"Ql":35,"Qh":50},
{"m":"3s_vs_5z","t":1.65,"S":92,"Sl":86,"Sh":95,"P":94,"Pl":91,"Ph":97,"H":10,"Hl":4,"Hh":18,"V":89,"Vl":84,"Vh":94,"Q":50,"Ql":42,"Qh":58},
{"m":"3s_vs_5z","t":1.7,"S":90,"Sl":82,"Sh":94,"P":96,"Pl":93,"Ph":98,"H":12,"Hl":5,"Hh":20,"V":88,"Vl":83,"Vh":93,"Q":55,"Ql":47,"Qh":63},
{"m":"3s_vs_5z","t":1.75,"S":92,"Sl":84,"Sh":95,"P":95,"Pl":92,"Ph":98,"H":10,"Hl":4,"Hh":18,"V":90,"Vl":85,"Vh":95,"Q":62,"Ql":55,"Qh":70},
{"m":"3s_vs_5z","t":1.8,"S":90,"Sl":80,"Sh":94,"P":96,"Pl":93,"Ph":98,"H":8,"Hl":3,"Hh":16,"V":90,"Vl":85,"Vh":95,"Q":68,"Ql":60,"Qh":76},
{"m":"3s_vs_5z","t":1.85,"S":86,"Sl":78,"Sh":92,"P":95,"Pl":92,"Ph":98,"H":13,"Hl":5,"Hh":28,"V":88,"Vl":83,"Vh":93,"Q":72,"Ql":65,"Qh":80},
{"m":"3s_vs_5z","t":1.9,"S":88,"Sl":82,"Sh":93,"P":95,"Pl":92,"Ph":98,"H":15,"Hl":5,"Hh":35,"V":90,"Vl":85,"Vh":95,"Q":78,"Ql":70,"Qh":84},
{"m":"3s_vs_5z","t":1.95,"S":90,"Sl":85,"Sh":94,"P":96,"Pl":93,"Ph":98,"H":20,"Hl":0,"Hh":42,"V":91,"Vl":86,"Vh":95,"Q":80,"Ql":74,"Qh":86},
{"m":"3s_vs_5z","t":2.0,"S":90,"Sl":86,"Sh":94,"P":97,"Pl":94,"Ph":99,"H":22,"Hl":2,"Hh":50,"V":89,"Vl":85,"Vh":93,"Q":88,"Ql":80,"Qh":92},
{"m":"2c_vs_64zg","t":0,"S":0,"Sl":0,"Sh":0,"P":0,"Pl":0,"Ph":0,"H":0,"Hl":0,"Hh":0,"V":0,"Vl":0,"Vh":0,"Q":0,"Ql":0,"Qh":0},
{"m":"2c_vs_64zg","t":0.4,"S":0,"Sl":0,"Sh":0,"P":0,"Pl":0,"Ph":0,"H":0,"Hl":0,"Hh":0,"V":0,"Vl":0,"Vh":0,"Q":0,"Ql":0,"Qh":0},
{"m":"2c_vs_64zg","t":0.45,"S":2,"Sl":0,"Sh":10,"P":0,"Pl":0,"Ph":0,"H":0,"Hl":0,"Hh":0,"V":0,"Vl":0,"Vh":0,"Q":0,"Ql":0,"Qh":1},
{"m":"2c_vs_64zg","t":0.5,"S":12,"Sl":2,"Sh":22,"P":0,"Pl":0,"Ph":0,"H":0,"Hl":0,"Hh":0,"V":0,"Vl":0,"Vh":0,"Q":1,"Ql":0,"Qh":2},
{"m":"2c_vs_64zg","t":0.55,"S":18,"Sl":8,"Sh":32,"P":0,"Pl":0,"Ph":1,"H":0,"Hl":0,"Hh":0,"V":0,"Vl":0,"Vh":0,"Q":1,"Ql":0,"Qh":3},
{"m":"2c_vs_64zg","t":0.6,"S":22,"Sl":12,"Sh":40,"P":1,"Pl":0,"Ph":3,"H":0,"Hl":0,"Hh":0,"V":0,"Vl":0,"Vh":0,"Q":2,"Ql":0,"Qh":4},
{"m":"2c_vs_64zg","t":0.65,"S":25,"Sl":15,"Sh":45,"P":2,"Pl":0,"Ph":4,"H":0,"Hl":0,"Hh":0,"V":0,"Vl":0,"Vh":1,"Q":3,"Ql":1,"Qh":6},
{"m":"2c_vs_64zg","t":0.7,"S":27,"Sl":15,"Sh":50,"P":3,"Pl":0,"Ph":6,"H":0,"Hl":0,"Hh":0,"V":1,"Vl":0,"Vh":2,"Q":4,"Ql":1,"Qh":8},
{"m":"2c_vs_64zg","t":0.75,"S":30,"Sl":18,"Sh":55,"P":4,"Pl":1,"Ph":8,"H":0,"Hl":0,"Hh":0,"V":1,"Vl":0,"Vh":2,"Q":5,"Ql":2,"Qh":10},
{"m":"2c_vs_64zg","t":0.8,"S":38,"Sl":25,"Sh":62,"P":5,"Pl":2,"Ph":10,"H":0,"Hl":0,"Hh":0,"V":2,"Vl":0,"Vh":4,"Q":6,"Ql":2,"Qh":12},
{"m":"2c_vs_64zg","t":0.85,"S":45,"Sl":30,"Sh":68,"P":7,"Pl":3,"Ph":14,"H":0,"Hl":0,"Hh":1,"V":2,"Vl":0,"Vh":4,"Q":7,"Ql":3,"Qh":14},
{"m":"2c_vs_64zg","t":0.9,"S":52,"Sl":40,"Sh":72,"P":8,"Pl":4,"Ph":18,"H":0,"Hl":0,"Hh":2,"V":2,"Vl":0,"Vh":4,"Q":8,"Ql":4,"Qh":16},
{"m":"2c_vs_64zg","t":0.95,"S":55,"Sl":45,"Sh":75,"P":9,"Pl":5,"Ph":22,"H":1,"Hl":0,"Hh":3,"V":3,"Vl":1,"Vh":5,"Q":10,"Ql":5,"Qh":18},
{"m":"2c_vs_64zg","t":1.0,"S":58,"Sl":48,"Sh":75,"P":18,"Pl":10,"Ph":30,"H":1,"Hl":0,"Hh":4,"V":3,"Vl":1,"Vh":6,"Q":12,"Ql":6,"Qh":20},
{"m":"2c_vs_64zg","t":1.05,"S":60,"Sl":50,"Sh":78,"P":20,"Pl":12,"Ph":38,"H":1,"Hl":0,"Hh":4,"V":3,"Vl":1,"Vh":6,"Q":15,"Ql":8,"Qh":24},
{"m":"2c_vs_64zg","t":1.1,"S":58,"Sl":50,"Sh":80,"P":22,"Pl":14,"Ph":45,"H":2,"Hl":0,"Hh":5,"V":4,"Vl":1,"Vh":7,"Q":10,"Ql":5,"Qh":25},
{"m":"2c_vs_64zg","t":1.15,"S":55,"Sl":48,"Sh":82,"P":30,"Pl":20,"Ph":52,"H":2,"Hl":0,"Hh":6,"V":4,"Vl":1,"Vh":8,"Q":12,"Ql":6,"Qh":30},
{"m":"2c_vs_64zg","t":1.2,"S":60,"Sl":52,"Sh":82,"P":28,"Pl":18,"Ph":55,"H":3,"Hl":0,"Hh":8,"V":5,"Vl":2,"Vh":9,"Q":15,"Ql":8,"Qh":35},
{"m":"2c_vs_64zg","t":1.25,"S":70,"Sl":60,"Sh":85,"P":38,"Pl":28,"Ph":60,"H":4,"Hl":0,"Hh":10,"V":4,"Vl":1,"Vh":9,"Q":18,"Ql":10,"Qh":40},
{"m":"2c_vs_64zg","t":1.3,"S":58,"Sl":50,"Sh":85,"P":52,"Pl":40,"Ph":65,"H":5,"Hl":0,"Hh":15,"V":5,"Vl":2,"Vh":10,"Q":22,"Ql":12,"Qh":45},
{"m":"2c_vs_64zg","t":1.35,"S":62,"Sl":52,"Sh":88,"P":60,"Pl":50,"Ph":70,"H":8,"Hl":0,"Hh":20,"V":6,"Vl":2,"Vh":12,"Q":28,"Ql":15,"Qh":48},
{"m":"2c_vs_64zg","t":1.4,"S":70,"Sl":60,"Sh":88,"P":62,"Pl":52,"Ph":75,"H":3,"Hl":0,"Hh":20,"V":8,"Vl":3,"Vh":14,"Q":32,"Ql":18,"Qh":50},
{"m":"2c_vs_64zg","t":1.45,"S":75,"Sl":65,"Sh":90,"P":70,"Pl":60,"Ph":80,"H":10,"Hl":0,"Hh":25,"V":10,"Vl":4,"Vh":18,"Q":35,"Ql":20,"Qh":55},
{"m":"2c_vs_64zg","t":1.5,"S":72,"Sl":62,"Sh":88,"P":70,"Pl":60,"Ph":80,"H":6,"Hl":0,"Hh":22,"V":9,"Vl":3,"Vh":20,"Q":28,"Ql":18,"Qh":58},
{"m":"2c_vs_64zg","t":1.55,"S":65,"Sl":55,"Sh":85,"P":72,"Pl":64,"Ph":82,"H":5,"Hl":0,"Hh":18,"V":12,"Vl":5,"Vh":24,"Q":38,"Ql":25,"Qh":62},
{"m":"2c_vs_64zg","t":1.6,"S":72,"Sl":62,"Sh":88,"P":75,"Pl":68,"Ph":84,"H":12,"Hl":0,"Hh":25,"V":15,"Vl":6,"Vh":28,"Q":42,"Ql":30,"Qh":62},
{"m":"2c_vs_64zg","t":1.65,"S":75,"Sl":65,"Sh":90,"P":80,"Pl":72,"Ph":88,"H":8,"Hl":0,"Hh":22,"V":18,"Vl":8,"Vh":32,"Q":45,"Ql":30,"Qh":65},
{"m":"2c_vs_64zg","t":1.7,"S":65,"Sl":58,"Sh":85,"P":82,"Pl":75,"Ph":90,"H":2,"Hl":0,"Hh":20,"V":22,"Vl":10,"Vh":35,"Q":50,"Ql":32,"Qh":68},
{"m":"2c_vs_64zg","t":1.75,"S":70,"Sl":62,"Sh":88,"P":85,"Pl":78,"Ph":92,"H":4,"Hl":0,"Hh":22,"V":25,"Vl":12,"Vh":38,"Q":48,"Ql":32,"Qh":70},
{"m":"2c_vs_64zg","t":1.8,"S":75,"Sl":68,"Sh":90,"P":84,"Pl":78,"Ph":90,"H":3,"Hl":0,"Hh":25,"V":28,"Vl":15,"Vh":42,"Q":55,"Ql":35,"Qh":70},
{"m":"2c_vs_64zg","t":1.85,"S":80,"Sl":72,"Sh":92,"P":85,"Pl":80,"Ph":90,"H":8,"Hl":0,"Hh":28,"V":32,"Vl":18,"Vh":45,"Q":56,"Ql":35,"Qh":72},
{"m":"2c_vs_64zg","t":1.9,"S":85,"Sl":75,"Sh":92,"P":86,"Pl":82,"Ph":90,"H":10,"Hl":0,"Hh":30,"V":35,"Vl":20,"Vh":48,"Q":58,"Ql":35,"Qh":72},
{"m":"2c_vs_64zg","t":1.95,"S":80,"Sl":72,"Sh":90,"P":85,"Pl":80,"Ph":90,"H":15,"Hl":0,"Hh":32,"V":38,"Vl":22,"Vh":50,"Q":60,"Ql":35,"Qh":72},
{"m":"2c_vs_64zg","t":2.0,"S":82,"Sl":74,"Sh":90,"P":86,"Pl":82,"Ph":90,"H":21,"Hl":0,"Hh":35,"V":38,"Vl":24,"Vh":50,"Q":64,"Ql":40,"Qh":72},
{"m":"MMM2","t":0,"S":0,"Sl":0,"Sh":0,"P":0,"Pl":0,"Ph":0,"H":0,"Hl":0,"Hh":0,"V":0,"Vl":0,"Vh":0,"Q":0,"Ql":0,"Qh":0},
{"m":"MMM2","t":0.45,"S":0,"Sl":0,"Sh":0,"P":0,"Pl":0,"Ph":0,"H":0,"Hl":0,"Hh":0,"V":0,"Vl":0,"Vh":0,"Q":1,"Ql":0,"Qh":2},
{"m":"MMM2","t":0.5,"S":1,"Sl":0,"Sh":2,"P":0,"Pl":0,"Ph":0,"H":0,"Hl":0,"Hh":0,"V":0,"Vl":0,"Vh":0,"Q":1,"Ql":0,"Qh":2},
{"m":"MMM2","t":0.55,"S":2,"Sl":0,"Sh":4,"P":0,"Pl":0,"Ph":0,"H":0,"Hl":0,"Hh":0,"V":0,"Vl":0,"Vh":0,"Q":1,"Ql":0,"Qh":2},
{"m":"MMM2","t":0.6,"S":3,"Sl":1,"Sh":5,"P":0,"Pl":0,"Ph":0,"H":0,"Hl":0,"Hh":0,"V":0,"Vl":0,"Vh":0,"Q":1,"Ql":0,"Qh":3},
{"m":"MMM2","t":0.65,"S":4,"Sl":2,"Sh":6,"P":0,"Pl":0,"Ph":0,"H":0,"Hl":0,"Hh":0,"V":0,"Vl":0,"Vh":0,"Q":2,"Ql":0,"Qh":4},
{"m":"MMM2","t":0.7,"S":4,"Sl":2,"Sh":7,"P":0,"Pl":0,"Ph":0,"H":0,"Hl":0,"Hh":0,"V":0,"Vl":0,"Vh":0,"Q":3,"Ql":1,"Qh":5},
{"m":"MMM2","t":0.75,"S":6,"Sl":3,"Sh":10,"P":0,"Pl":0,"Ph":0,"H":0,"Hl":0,"Hh":0,"V":0,"Vl":0,"Vh":0,"Q":4,"Ql":1,"Qh":7},
{"m":"MMM2","t":0.8,"S":10,"Sl":5,"Sh":18,"P":0,"Pl":0,"Ph":0,"H":0,"Hl":0,"Hh":0,"V":0,"Vl":0,"Vh":0,"Q":4,"Ql":1,"Qh":8},
{"m":"MMM2","t":0.85,"S":12,"Sl":6,"Sh":22,"P":0,"Pl":0,"Ph":0,"H":0,"Hl":0,"Hh":0,"V":0,"Vl":0,"Vh":0,"Q":5,"Ql":2,"Qh":10},
{"m":"MMM2","t":0.9,"S":12,"Sl":6,"Sh":32,"P":0,"Pl":0,"Ph":0,"H":0,"Hl":0,"Hh":0,"V":0,"Vl":0,"Vh":0,"Q":6,"Ql":2,"Qh":12},
{"m":"MMM2","t":0.95,"S":15,"Sl":8,"Sh":40,"P":0,"Pl":0,"Ph":0,"H":1,"Hl":0,"Hh":2,"V":0,"Vl":0,"Vh":0,"Q":8,"Ql":3,"Qh":15},
{"m":"MMM2","t":1.0,"S":22,"Sl":12,"Sh":40,"P":0,"Pl":0,"Ph":0,"H":1,"Hl":0,"Hh":2,"V":0,"Vl":0,"Vh":0,"Q":8,"Ql":3,"Qh":20},
{"m":"MMM2","t":1.05,"S":28,"Sl":18,"Sh":38,"P":0,"Pl":0,"Ph":0,"H":1,"Hl":0,"Hh":2,"V":0,"Vl":0,"Vh":0,"Q":12,"Ql":5,"Qh":25},
{"m":"MMM2","t":1.1,"S":35,"Sl":25,"Sh":45,"P":0,"Pl":0,"Ph":0,"H":1,"Hl":0,"Hh":2,"V":0,"Vl":0,"Vh":0,"Q":15,"Ql":8,"Qh":30},
{"m":"MMM2","t":1.15,"S":30,"Sl":22,"Sh":45,"P":0,"Pl":0,"Ph":0,"H":1,"Hl":0,"Hh":2,"V":0,"Vl":0,"Vh":0,"Q":20,"Ql":10,"Qh":35},
{"m":"MMM2","t":1.2,"S":38,"Sl":28,"Sh":52,"P":0,"Pl":0,"Ph":0,"H":1,"Hl":0,"Hh":2,"V":0,"Vl":0,"Vh":0,"Q":17,"Ql":10,"Qh":40},
{"m":"MMM2","t":1.25,"S":35,"Sl":28,"Sh":55,"P":0,"Pl":0,"Ph":0,"H":1,"Hl":0,"Hh":2,"V":0,"Vl":0,"Vh":0,"Q":15,"Ql":8,"Qh":45},
{"m":"MMM2","t":1.3,"S":48,"Sl":35,"Sh":60,"P":0,"Pl":0,"Ph":0,"H":1,"Hl":0,"Hh":2,"V":0,"Vl":0,"Vh":0,"Q":25,"Ql":12,"Qh":50},
{"m":"MMM2","t":1.35,"S":45,"Sl":38,"Sh":62,"P":0,"Pl":0,"Ph":0,"H":1,"Hl":0,"Hh":2,"V":0,"Vl":0,"Vh":0,"Q":30,"Ql":18,"Qh":58},
{"m":"MMM2","t":1.4,"S":58,"Sl":45,"Sh":70,"P":0,"Pl":0,"Ph":0,"H":2,"Hl":0,"Hh":4,"V":0,"Vl":0,"Vh":0,"Q":35,"Ql":22,"Qh":62},
{"m":"MMM2","t":1.45,"S":45,"Sl":38,"Sh":68,"P":1,"Pl":0,"Ph":2,"H":2,"Hl":0,"Hh":4,"V":0,"Vl":0,"Vh":0,"Q":40,"Ql":25,"Qh":65},
{"m":"MMM2","t":1.5,"S":52,"Sl":42,"Sh":70,"P":1,"Pl":0,"Ph":2,"H":3,"Hl":0,"Hh":6,"V":0,"Vl":0,"Vh":0,"Q":35,"Ql":20,"Qh":68},
{"m":"MMM2","t":1.55,"S":62,"Sl":50,"Sh":72,"P":1,"Pl":0,"Ph":2,"H":2,"Hl":0,"Hh":5,"V":0,"Vl":0,"Vh":0,"Q":50,"Ql":30,"Qh":70},
{"m":"MMM2","t":1.6,"S":65,"Sl":55,"Sh":75,"P":1,"Pl":0,"Ph":3,"H":2,"Hl":0,"Hh":6,"V":1,"Vl":0,"Vh":2,"Q":55,"Ql":30,"Qh":72},
{"m":"MMM2","t":1.65,"S":68,"Sl":58,"Sh":78,"P":1,"Pl":0,"Ph":3,"H":2,"Hl":0,"Hh":8,"V":1,"Vl":0,"Vh":2,"Q":52,"Ql":25,"Qh":75},
{"m":"MMM2","t":1.7,"S":75,"Sl":62,"Sh":82,"P":2,"Pl":0,"Ph":4,"H":3,"Hl":0,"Hh":10,"V":1,"Vl":0,"Vh":2,"Q":42,"Ql":25,"Qh":72},
{"m":"MMM2","t":1.75,"S":78,"Sl":65,"Sh":85,"P":2,"Pl":0,"Ph":4,"H":3,"Hl":0,"Hh":12,"V":1,"Vl":0,"Vh":2,"Q":48,"Ql":30,"Qh":75},
{"m":"MMM2","t":1.8,"S":78,"Sl":68,"Sh":85,"P":3,"Pl":0,"Ph":5,"H":4,"Hl":0,"Hh":14,"V":1,"Vl":0,"Vh":2,"Q":55,"Ql":35,"Qh":78},
{"m":"MMM2","t":1.85,"S":80,"Sl":70,"Sh":88,"P":3,"Pl":0,"Ph":5,"H":4,"Hl":0,"Hh":14,"V":1,"Vl":0,"Vh":2,"Q":45,"Ql":32,"Qh":75},
{"m":"MMM2","t":1.9,"S":72,"Sl":60,"Sh":85,"P":3,"Pl":0,"Ph":5,"H":5,"Hl":0,"Hh":12,"V":1,"Vl":0,"Vh":2,"Q":50,"Ql":35,"Qh":78},
{"m":"MMM2","t":1.95,"S":80,"Sl":70,"Sh":88,"P":4,"Pl":1,"Ph":6,"H":5,"Hl":0,"Hh":10,"V":1,"Vl":0,"Vh":2,"Q":58,"Ql":42,"Qh":80},
{"m":"MMM2","t":2.0,"S":75,"Sl":68,"Sh":85,"P":4,"Pl":1,"Ph":6,"H":5,"Hl":0,"Hh":8,"V":1,"Vl":0,"Vh":2,"Q":57,"Ql":45,"Qh":80},
{"m":"bane_vs_bane","t":0,"S":40,"Sl":32,"Sh":48,"P":35,"Pl":28,"Ph":42,"H":38,"Hl":30,"Hh":46,"V":38,"Vl":30,"Vh":46,"Q":37,"Ql":30,"Qh":44},
{"m":"bane_vs_bane","t":0.05,"S":50,"Sl":42,"Sh":58,"P":40,"Pl":30,"Ph":50,"H":45,"Hl":35,"Hh":55,"V":50,"Vl":42,"Vh":58,"Q":45,"Ql":38,"Qh":52},
{"m":"bane_vs_bane","t":0.1,"S":62,"Sl":54,"Sh":70,"P":45,"Pl":35,"Ph":55,"H":55,"Hl":45,"Hh":65,"V":60,"Vl":52,"Vh":68,"Q":40,"Ql":33,"Qh":47},
{"m":"bane_vs_bane","t":0.15,"S":60,"Sl":52,"Sh":68,"P":50,"Pl":38,"Ph":62,"H":60,"Hl":50,"Hh":70,"V":55,"Vl":47,"Vh":63,"Q":45,"Ql":35,"Qh":55},
{"m":"bane_vs_bane","t":0.2,"S":58,"Sl":50,"Sh":66,"P":50,"Pl":38,"Ph":62,"H":50,"Hl":40,"Hh":60,"V":62,"Vl":54,"Vh":70,"Q":48,"Ql":35,"Qh":60},
{"m":"bane_vs_bane","t":0.25,"S":68,"Sl":60,"Sh":76,"P":68,"Pl":55,"Ph":80,"H":55,"Hl":45,"Hh":65,"V":72,"Vl":64,"Vh":80,"Q":45,"Ql":30,"Qh":60},
{"m":"bane_vs_bane","t":0.3,"S":82,"Sl":74,"Sh":90,"P":60,"Pl":48,"Ph":72,"H":62,"Hl":52,"Hh":72,"V":78,"Vl":70,"Vh":86,"Q":40,"Ql":25,"Qh":55},
{"m":"bane_vs_bane","t":0.35,"S":85,"Sl":77,"Sh":93,"P":62,"Pl":50,"Ph":74,"H":65,"Hl":55,"Hh":75,"V":80,"Vl":72,"Vh":88,"Q":30,"Ql":18,"Qh":48},
{"m":"bane_vs_bane","t":0.4,"S":88,"Sl":80,"Sh":96,"P":52,"Pl":40,"Ph":64,"H":60,"Hl":50,"Hh":70,"V":80,"Vl":72,"Vh":88,"Q":35,"Ql":20,"Qh":55},
{"m":"bane_vs_bane","t":0.45,"S":90,"Sl":82,"Sh":98,"P":58,"Pl":45,"Ph":70,"H":70,"Hl":60,"Hh":80,"V":78,"Vl":70,"Vh":86,"Q":22,"Ql":10,"Qh":50},
{"m":"bane_vs_bane","t":0.5,"S":92,"Sl":84,"Sh":99,"P":48,"Pl":35,"Ph":62,"H":72,"Hl":62,"Hh":82,"V":75,"Vl":67,"Vh":83,"Q":15,"Ql":8,"Qh":45},
{"m":"bane_vs_bane","t":0.55,"S":94,"Sl":88,"Sh":99,"P":60,"Pl":45,"Ph":72,"H":65,"Hl":55,"Hh":75,"V":72,"Vl":64,"Vh":80,"Q":22,"Ql":10,"Qh":55},
{"m":"bane_vs_bane","t":0.6,"S":96,"Sl":92,"Sh":99,"P":55,"Pl":40,"Ph":70,"H":75,"Hl":65,"Hh":85,"V":62,"Vl":55,"Vh":72,"Q":12,"Ql":8,"Qh":55},
{"m":"bane_vs_bane","t":0.65,"S":95,"Sl":92,"Sh":98,"P":50,"Pl":35,"Ph":65,"H":80,"Hl":70,"Hh":90,"V":58,"Vl":50,"Vh":68,"Q":12,"Ql":8,"Qh":60},
{"m":"bane_vs_bane","t":0.7,"S":97,"Sl":94,"Sh":99,"P":45,"Pl":30,"Ph":62,"H":72,"Hl":62,"Hh":82,"V":60,"Vl":52,"Vh":70,"Q":40,"Ql":20,"Qh":70},
{"m":"bane_vs_bane","t":0.75,"S":98,"Sl":95,"Sh":100,"P":38,"Pl":25,"Ph":55,"H":85,"Hl":75,"Hh":95,"V":65,"Vl":57,"Vh":75,"Q":65,"Ql":40,"Qh":80},
{"m":"bane_vs_bane","t":0.8,"S":99,"Sl":96,"Sh":100,"P":30,"Pl":18,"Ph":48,"H":85,"Hl":75,"Hh":95,"V":58,"Vl":50,"Vh":68,"Q":65,"Ql":45,"Qh":85},
{"m":"bane_vs_bane","t":0.85,"S":98,"Sl":95,"Sh":100,"P":35,"Pl":20,"Ph":50,"H":88,"Hl":78,"Hh":98,"V":58,"Vl":50,"Vh":68,"Q":80,"Ql":60,"Qh":90},
{"m":"bane_vs_bane","t":0.9,"S":96,"Sl":93,"Sh":99,"P":28,"Pl":15,"Ph":45,"H":90,"Hl":80,"Hh":98,"V":60,"Vl":52,"Vh":70,"Q":82,"Ql":65,"Qh":92},
{"m":"bane_vs_bane","t":0.95,"S":98,"Sl":95,"Sh":100,"P":38,"Pl":22,"Ph":52,"H":92,"Hl":82,"Hh":98,"V":62,"Vl":54,"Vh":72,"Q":90,"Ql":75,"Qh":96},
{"m":"bane_vs_bane","t":1.0,"S":98,"Sl":95,"Sh":100,"P":15,"Pl":5,"Ph":35,"H":85,"Hl":75,"Hh":95,"V":60,"Vl":52,"Vh":70,"Q":92,"Ql":82,"Qh":98},
{"m":"bane_vs_bane","t":1.05,"S":97,"Sl":94,"Sh":100,"P":12,"Pl":5,"Ph":30,"H":80,"Hl":70,"Hh":90,"V":55,"Vl":48,"Vh":65,"Q":88,"Ql":80,"Qh":95},
{"m":"bane_vs_bane","t":1.1,"S":98,"Sl":95,"Sh":100,"P":15,"Pl":5,"Ph":30,"H":88,"Hl":78,"Hh":96,"V":62,"Vl":54,"Vh":72,"Q":82,"Ql":75,"Qh":90},
{"m":"bane_vs_bane","t":1.15,"S":97,"Sl":94,"Sh":100,"P":25,"Pl":10,"Ph":40,"H":85,"Hl":75,"Hh":95,"V":60,"Vl":52,"Vh":70,"Q":88,"Ql":82,"Qh":94},
{"m":"bane_vs_bane","t":1.2,"S":98,"Sl":95,"Sh":100,"P":35,"Pl":15,"Ph":50,"H":90,"Hl":80,"Hh":98,"V":58,"Vl":50,"Vh":68,"Q":90,"Ql":84,"Qh":96},
{"m":"bane_vs_bane","t":1.25,"S":99,"Sl":96,"Sh":100,"P":38,"Pl":18,"Ph":55,"H":88,"Hl":78,"Hh":96,"V":60,"Vl":52,"Vh":70,"Q":88,"Ql":82,"Qh":94},
{"m":"bane_vs_bane","t":1.3,"S":98,"Sl":95,"Sh":100,"P":30,"Pl":12,"Ph":45,"H":92,"Hl":82,"Hh":98,"V":62,"Vl":54,"Vh":72,"Q":92,"Ql":86,"Qh":98},
{"m":"bane_vs_bane","t":1.35,"S":97,"Sl":94,"Sh":100,"P":18,"Pl":5,"Ph":35,"H":90,"Hl":80,"Hh":98,"V":60,"Vl":52,"Vh":70,"Q":90,"Ql":84,"Qh":96},
{"m":"bane_vs_bane","t":1.4,"S":98,"Sl":95,"Sh":100,"P":10,"Pl":3,"Ph":25,"H":85,"Hl":75,"Hh":95,"V":62,"Vl":54,"Vh":72,"Q":92,"Ql":86,"Qh":98},
{"m":"bane_vs_bane","t":1.45,"S":98,"Sl":95,"Sh":100,"P":8,"Pl":3,"Ph":30,"H":90,"Hl":80,"Hh":98,"V":65,"Vl":57,"Vh":75,"Q":85,"Ql":80,"Qh":92},
{"m":"bane_vs_bane","t":1.5,"S":97,"Sl":94,"Sh":100,"P":12,"Pl":4,"Ph":45,"H":92,"Hl":82,"Hh":98,"V":58,"Vl":50,"Vh":68,"Q":92,"Ql":86,"Qh":98},
{"m":"bane_vs_bane","t":1.55,"S":99,"Sl":96,"Sh":100,"P":25,"Pl":8,"Ph":45,"H":88,"Hl":78,"Hh":96,"V":68,"Vl":60,"Vh":78,"Q":96,"Ql":90,"Qh":100},
{"m":"bane_vs_bane","t":1.6,"S":98,"Sl":95,"Sh":100,"P":10,"Pl":3,"Ph":30,"H":80,"Hl":70,"Hh":90,"V":78,"Vl":70,"Vh":86,"Q":95,"Ql":90,"Qh":99},
{"m":"bane_vs_bane","t":1.65,"S":98,"Sl":95,"Sh":100,"P":8,"Pl":3,"Ph":25,"H":82,"Hl":72,"Hh":92,"V":78,"Vl":70,"Vh":86,"Q":97,"Ql":92,"Qh":100},
{"m":"bane_vs_bane","t":1.7,"S":99,"Sl":96,"Sh":100,"P":12,"Pl":4,"Ph":28,"H":90,"Hl":80,"Hh":98,"V":80,"Vl":72,"Vh":88,"Q":96,"Ql":91,"Qh":99},
{"m":"bane_vs_bane","t":1.75,"S":98,"Sl":95,"Sh":100,"P":5,"Pl":2,"Ph":22,"H":88,"Hl":78,"Hh":96,"V":78,"Vl":70,"Vh":86,"Q":95,"Ql":90,"Qh":99},
{"m":"bane_vs_bane","t":1.8,"S":97,"Sl":94,"Sh":100,"P":8,"Pl":2,"Ph":22,"H":95,"Hl":85,"Hh":99,"V":78,"Vl":70,"Vh":86,"Q":93,"Ql":88,"Qh":98},
{"m":"bane_vs_bane","t":1.85,"S":97,"Sl":94,"Sh":100,"P":6,"Pl":2,"Ph":18,"H":88,"Hl":78,"Hh":96,"V":75,"Vl":67,"Vh":83,"Q":92,"Ql":87,"Qh":97},
{"m":"bane_vs_bane","t":1.9,"S":94,"Sl":90,"Sh":98,"P":4,"Pl":1,"Ph":12,"H":82,"Hl":72,"Hh":92,"V":72,"Vl":64,"Vh":80,"Q":95,"Ql":90,"Qh":99},
{"m":"bane_vs_bane","t":1.95,"S":96,"Sl":92,"Sh":99,"P":3,"Pl":1,"Ph":10,"H":76,"Hl":66,"Hh":86,"V":72,"Vl":62,"Vh":80,"Q":97,"Ql":92,"Qh":100},
{"m":"bane_vs_bane","t":2.0,"S":97,"Sl":94,"Sh":100,"P":5,"Pl":2,"Ph":15,"H":80,"Hl":70,"Hh":90,"V":68,"Vl":55,"Vh":78,"Q":96,"Ql":91,"Qh":99},
{"m":"27m_vs_30m","t":0,"S":0,"Sl":0,"Sh":0,"P":0,"Pl":0,"Ph":0,"H":0,"Hl":0,"Hh":0,"V":0,"Vl":0,"Vh":0,"Q":0,"Ql":0,"Qh":0},
{"m":"27m_vs_30m","t":0.4,"S":0,"Sl":0,"Sh":0,"P":0,"Pl":0,"Ph":0,"H":0,"Hl":0,"Hh":0,"V":0,"Vl":0,"Vh":0,"Q":0,"Ql":0,"Qh":0},
{"m":"27m_vs_30m","t":0.45,"S":1,"Sl":0,"Sh":2,"P":0,"Pl":0,"Ph":0,"H":0,"Hl":0,"Hh":0,"V":0,"Vl":0,"Vh":0,"Q":0,"Ql":0,"Qh":1},
{"m":"27m_vs_30m","t":0.5,"S":2,"Sl":0,"Sh":4,"P":0,"Pl":0,"Ph":0,"H":0,"Hl":0,"Hh":0,"V":0,"Vl":0,"Vh":0,"Q":1,"Ql":0,"Qh":2},
{"m":"27m_vs_30m","t":0.55,"S":5,"Sl":2,"Sh":8,"P":0,"Pl":0,"Ph":0,"H":0,"Hl":0,"Hh":0,"V":0,"Vl":0,"Vh":0,"Q":2,"Ql":0,"Qh":4},
{"m":"27m_vs_30m","t":0.6,"S":8,"Sl":4,"Sh":12,"P":0,"Pl":0,"Ph":0,"H":0,"Hl":0,"Hh":0,"V":0,"Vl":0,"Vh":0,"Q":3,"Ql":1,"Qh":6},
{"m":"27m_vs_30m","t":0.65,"S":5,"Sl":2,"Sh":9,"P":0,"Pl":0,"Ph":0,"H":0,"Hl":0,"Hh":0,"V":0,"Vl":0,"Vh":1,"Q":4,"Ql":1,"Qh":7},
{"m":"27m_vs_30m","t":0.7,"S":4,"Sl":2,"Sh":8,"P":0,"Pl":0,"Ph":0,"H":0,"Hl":0,"Hh":0,"V":1,"Vl":0,"Vh":2,"Q":5,"Ql":2,"Qh":8},
{"m":"27m_vs_30m","t":0.75,"S":5,"Sl":2,"Sh":9,"P":0,"Pl":0,"Ph":0,"H":0,"Hl":0,"Hh":0,"V":1,"Vl":0,"Vh":2,"Q":6,"Ql":3,"Qh":9},
{"m":"27m_vs_30m","t":0.8,"S":7,"Sl":3,"Sh":12,"P":0,"Pl":0,"Ph":1,"H":0,"Hl":0,"Hh":0,"V":2,"Vl":0,"Vh":4,"Q":7,"Ql":3,"Qh":11},
{"m":"27m_vs_30m","t":0.85,"S":8,"Sl":4,"Sh":14,"P":0,"Pl":0,"Ph":2,"H":0,"Hl":0,"Hh":0,"V":2,"Vl":0,"Vh":4,"Q":8,"Ql":4,"Qh":12},
{"m":"27m_vs_30m","t":0.9,"S":10,"Sl":5,"Sh":16,"P":1,"Pl":0,"Ph":3,"H":0,"Hl":0,"Hh":1,"V":3,"Vl":0,"Vh":5,"Q":10,"Ql":5,"Qh":15},
{"m":"27m_vs_30m","t":0.95,"S":12,"Sl":6,"Sh":20,"P":1,"Pl":0,"Ph":3,"H":0,"Hl":0,"Hh":1,"V":3,"Vl":1,"Vh":6,"Q":12,"Ql":6,"Qh":18},
{"m":"27m_vs_30m","t":1.0,"S":15,"Sl":8,"Sh":25,"P":2,"Pl":0,"Ph":4,"H":0,"Hl":0,"Hh":1,"V":4,"Vl":1,"Vh":7,"Q":12,"Ql":6,"Qh":20},
{"m":"27m_vs_30m","t":1.05,"S":20,"Sl":10,"Sh":30,"P":2,"Pl":0,"Ph":5,"H":0,"Hl":0,"Hh":1,"V":4,"Vl":1,"Vh":8,"Q":12,"Ql":6,"Qh":20},
{"m":"27m_vs_30m","t":1.1,"S":20,"Sl":10,"Sh":35,"P":3,"Pl":0,"Ph":6,"H":0,"Hl":0,"Hh":1,"V":5,"Vl":2,"Vh":9,"Q":13,"Ql":7,"Qh":22},
{"m":"27m_vs_30m","t":1.15,"S":22,"Sl":12,"Sh":40,"P":3,"Pl":1,"Ph":7,"H":0,"Hl":0,"Hh":1,"V":5,"Vl":2,"Vh":9,"Q":15,"Ql":8,"Qh":22},
{"m":"27m_vs_30m","t":1.2,"S":25,"Sl":15,"Sh":48,"P":4,"Pl":1,"Ph":8,"H":0,"Hl":0,"Hh":1,"V":6,"Vl":2,"Vh":10,"Q":15,"Ql":8,"Qh":22},
{"m":"27m_vs_30m","t":1.25,"S":20,"Sl":12,"Sh":45,"P":4,"Pl":1,"Ph":9,"H":0,"Hl":0,"Hh":1,"V":6,"Vl":2,"Vh":10,"Q":16,"Ql":9,"Qh":22},
{"m":"27m_vs_30m","t":1.3,"S":18,"Sl":10,"Sh":42,"P":5,"Pl":1,"Ph":10,"H":0,"Hl":0,"Hh":1,"V":7,"Vl":3,"Vh":12,"Q":16,"Ql":10,"Qh":22},
{"m":"27m_vs_30m","t":1.35,"S":28,"Sl":12,"Sh":45,"P":5,"Pl":1,"Ph":10,"H":0,"Hl":0,"Hh":1,"V":7,"Vl":3,"Vh":12,"Q":17,"Ql":11,"Qh":23},
{"m":"27m_vs_30m","t":1.4,"S":40,"Sl":20,"Sh":60,"P":6,"Pl":2,"Ph":12,"H":0,"Hl":0,"Hh":1,"V":8,"Vl":3,"Vh":13,"Q":20,"Ql":14,"Qh":26},
{"m":"27m_vs_30m","t":1.45,"S":35,"Sl":18,"Sh":65,"P":6,"Pl":2,"Ph":12,"H":0,"Hl":0,"Hh":1,"V":9,"Vl":4,"Vh":14,"Q":18,"Ql":12,"Qh":24},
{"m":"27m_vs_30m","t":1.5,"S":50,"Sl":28,"Sh":68,"P":7,"Pl":2,"Ph":13,"H":0,"Hl":0,"Hh":2,"V":10,"Vl":4,"Vh":15,"Q":20,"Ql":14,"Qh":26},
{"m":"27m_vs_30m","t":1.55,"S":45,"Sl":25,"Sh":62,"P":8,"Pl":3,"Ph":14,"H":2,"Hl":0,"Hh":5,"V":10,"Vl":5,"Vh":16,"Q":18,"Ql":12,"Qh":25},
{"m":"27m_vs_30m","t":1.6,"S":35,"Sl":20,"Sh":55,"P":10,"Pl":4,"Ph":16,"H":3,"Hl":0,"Hh":7,"V":10,"Vl":5,"Vh":16,"Q":18,"Ql":12,"Qh":25},
{"m":"27m_vs_30m","t":1.65,"S":48,"Sl":30,"Sh":60,"P":10,"Pl":4,"Ph":16,"H":2,"Hl":0,"Hh":6,"V":11,"Vl":5,"Vh":17,"Q":20,"Ql":14,"Qh":27},
{"m":"27m_vs_30m","t":1.7,"S":55,"Sl":35,"Sh":65,"P":10,"Pl":4,"Ph":17,"H":1,"Hl":0,"Hh":4,"V":12,"Vl":6,"Vh":18,"Q":25,"Ql":18,"Qh":32},
{"m":"27m_vs_30m","t":1.75,"S":68,"Sl":45,"Sh":70,"P":11,"Pl":5,"Ph":18,"H":2,"Hl":0,"Hh":5,"V":11,"Vl":6,"Vh":17,"Q":30,"Ql":22,"Qh":36},
{"m":"27m_vs_30m","t":1.8,"S":40,"Sl":30,"Sh":65,"P":12,"Pl":5,"Ph":18,"H":3,"Hl":0,"Hh":7,"V":10,"Vl":5,"Vh":16,"Q":28,"Ql":22,"Qh":34},
{"m":"27m_vs_30m","t":1.85,"S":55,"Sl":40,"Sh":70,"P":11,"Pl":5,"Ph":17,"H":1,"Hl":0,"Hh":4,"V":12,"Vl":6,"Vh":18,"Q":20,"Ql":15,"Qh":28},
{"m":"27m_vs_30m","t":1.9,"S":70,"Sl":50,"Sh":72,"P":10,"Pl":4,"Ph":16,"H":1,"Hl":0,"Hh":3,"V":14,"Vl":8,"Vh":20,"Q":25,"Ql":18,"Qh":32},
{"m":"27m_vs_30m","t":1.95,"S":58,"Sl":45,"Sh":70,"P":5,"Pl":2,"Ph":12,"H":1,"Hl":0,"Hh":3,"V":15,"Vl":8,"Vh":22,"Q":27,"Ql":20,"Qh":35},
{"m":"27m_vs_30m","t":2.0,"S":68,"Sl":48,"Sh":75,"P":10,"Pl":4,"Ph":16,"H":1,"Hl":0,"Hh":3,"V":12,"Vl":6,"Vh":18,"Q":29,"Ql":22,"Qh":36}
]},
"facet":{"field":"m","type":"nominal","sort":["2s3z","3s5z","1c3s5z","5m_vs_6m","3s_vs_5z","2c_vs_64zg","MMM2","bane_vs_bane","27m_vs_30m"],"header":{"title":null,"labelFont":"Liberation Sans","labelFontSize":16.5,"labelColor":"#222222","labelPadding":5}},
"columns":3,
"spacing":{"row":7,"column":22},
"resolve":{"axis":{"x":"independent","y":"independent"}},
"spec":{
"width":350,"height":108,
"encoding":{"x":{"field":"t","type":"quantitative","title":"T (mil)","scale":{"domain":[-0.05,2.03],"nice":false,"zero":false},"axis":{"values":[0,0.5,1,1.5,2],"format":".1f"}}},
"layer":[
{"mark":{"type":"area","color":"#ff0000","fillOpacity":0.18},"encoding":{"y":{"field":"Sl","type":"quantitative","title":"Median Test Win (%)","scale":{"domain":[-10,100],"nice":false,"zero":false},"axis":{"values":[0,20,40,60,80,100]}},"y2":{"field":"Sh"}}},
{"mark":{"type":"area","color":"#32cd32","fillOpacity":0.18},"encoding":{"y":{"field":"Pl","type":"quantitative","title":"Median Test Win (%)","axis":{"values":[0,20,40,60,80,100]}},"y2":{"field":"Ph"}}},
{"mark":{"type":"area","color":"#ffa500","fillOpacity":0.18},"encoding":{"y":{"field":"Hl","type":"quantitative","title":"Median Test Win (%)","axis":{"values":[0,20,40,60,80,100]}},"y2":{"field":"Hh"}}},
{"mark":{"type":"area","color":"#ee82ee","fillOpacity":0.18},"encoding":{"y":{"field":"Vl","type":"quantitative","title":"Median Test Win (%)","axis":{"values":[0,20,40,60,80,100]}},"y2":{"field":"Vh"}}},
{"mark":{"type":"area","color":"#00bfff","fillOpacity":0.18},"encoding":{"y":{"field":"Ql","type":"quantitative","title":"Median Test Win (%)","axis":{"values":[0,20,40,60,80,100]}},"y2":{"field":"Qh"}}},
{"mark":{"type":"line","strokeWidth":1.5},"encoding":{"y":{"field":"H","type":"quantitative","title":"Median Test Win (%)","axis":{"values":[0,20,40,60,80,100]}},"color":{"datum":"QMIX-HO","type":"nominal","scale":{"domain":["SIDE","QMIX-PO","QMIX-HO","VDN","QMIX"],"range":["#ff0000","#32cd32","#ffa500","#ee82ee","#00bfff"]},"legend":{"orient":"none","legendX":81,"legendY":-80,"direction":"horizontal","title":null,"symbolType":"stroke","symbolSize":1444,"symbolStrokeWidth":2,"symbolOpacity":1,"labelFont":"Liberation Sans","labelFontSize":18,"labelColor":"#262626","labelOffset":14,"columnPadding":104}}}},
{"mark":{"type":"line","strokeWidth":1.5},"encoding":{"y":{"field":"V","type":"quantitative","title":"Median Test Win (%)","axis":{"values":[0,20,40,60,80,100]}},"color":{"datum":"VDN","type":"nominal"}}},
{"mark":{"type":"line","strokeWidth":1.5},"encoding":{"y":{"field":"P","type":"quantitative","title":"Median Test Win (%)","axis":{"values":[0,20,40,60,80,100]}},"color":{"datum":"QMIX-PO","type":"nominal"}}},
{"mark":{"type":"line","strokeWidth":1.5},"encoding":{"y":{"field":"Q","type":"quantitative","title":"Median Test Win (%)","axis":{"values":[0,20,40,60,80,100]}},"color":{"datum":"QMIX","type":"nominal"}}},
{"mark":{"type":"line","strokeWidth":1.5},"encoding":{"y":{"field":"S","type":"quantitative","title":"Median Test Win (%)","axis":{"values":[0,20,40,60,80,100]}},"color":{"datum":"SIDE","type":"nominal"}}}
]
},
"config":{
"font":"Liberation Sans",
"view":{"stroke":"#222222","strokeWidth":1.3},
"axis":{"domain":false,"ticks":false,"grid":true,"gridColor":"#cccccc","gridWidth":1,"labelOverlap":false,"labelFont":"Liberation Sans","labelFontSize":13,"labelColor":"#262626","titleFont":"Liberation Sans","titleFontSize":12,"titleFontWeight":"normal","titleColor":"#262626"},
"axisX":{"labelPadding":5,"titlePadding":0},
"axisY":{"labelPadding":5,"titlePadding":2,"tickCount":6}
}
}
